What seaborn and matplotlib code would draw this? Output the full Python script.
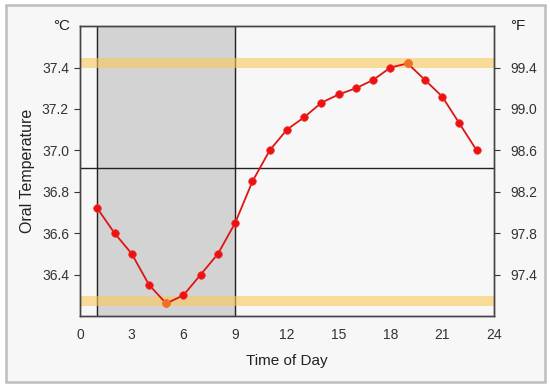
import matplotlib
matplotlib.use('Agg')
import matplotlib.pyplot as plt
import seaborn as sns
import pandas as pd
from matplotlib.patches import Rectangle

# Data
hours = [1, 2, 3, 4, 5, 6, 7, 8, 9, 10, 11, 12, 13, 14, 15, 16, 17, 18, 19, 20, 21, 22, 23]
temps_c = [36.72, 36.60, 36.50, 36.35, 36.26, 36.30, 36.40, 36.50, 36.65, 36.85, 37.00,
           37.10, 37.16, 37.23, 37.27, 37.30, 37.34, 37.40, 37.42, 37.34, 37.26, 37.13, 37.00]
night_start, night_end = 1, 9
mean_temp = 36.915
band_levels = [37.42, 36.27]
c_ticks = [36.4, 36.6, 36.8, 37.0, 37.2, 37.4]
f_ticks = [97.4, 97.8, 98.2, 98.6, 99.0, 99.4]
x_ticks = [0, 3, 6, 9, 12, 15, 18, 21, 24]

df = pd.DataFrame({'hour': hours, 'temp': temps_c})
extremes = df.loc[[df['temp'].idxmin(), df['temp'].idxmax()]]

sns.set_style('white')
plt.rcParams['font.family'] = ['Liberation Sans', 'DejaVu Sans']

fig = plt.figure(figsize=(5.5, 3.9), dpi=100, facecolor='white')
# light panel with grey frame
fig.patches.append(Rectangle((0.011, 0.021), 0.979, 0.966, transform=fig.transFigure,
                             facecolor='#f7f7f7', edgecolor='#bdbdbd', lw=1.8, zorder=-1))
ax = fig.add_axes([0.1455, 0.19, 0.7525, 0.743])
ax.set_facecolor('#f7f7f7')

# night shading and reference lines
ax.axvspan(night_start, night_end, color='#d3d3d3', zorder=0)
for xv in (night_start, night_end):
    ax.axvline(xv, color='#222222', lw=1, zorder=1)
ax.axhline(mean_temp, color='#222222', lw=1, zorder=1)
for lvl in band_levels:
    ax.axhspan(lvl - 0.024, lvl + 0.024, color='#f9c85a', alpha=0.6, lw=0, zorder=2)

sns.lineplot(data=df, x='hour', y='temp', color='#dd1515', lw=1.3, ax=ax, zorder=3)
sns.scatterplot(data=df, x='hour', y='temp', color='#ee1111', s=30, edgecolor='#ee3333',
                lw=0.5, ax=ax, zorder=4)
sns.scatterplot(data=extremes, x='hour', y='temp', color='#f07020', s=30, edgecolor='#f08040',
                lw=0.5, ax=ax, zorder=5)

ax.set_xlim(0, 24)
ax.set_ylim(36.2, 37.6)
ax.set_xticks(x_ticks)
ax.set_yticks(c_ticks)
ax.set_yticklabels([f'{v:.1f}' for v in c_ticks])
ax.set_xlabel('Time of Day', fontsize=11, color='#222222', labelpad=8)
ax.set_ylabel('Oral Temperature', fontsize=11.5, color='#222222', labelpad=5)
ax.tick_params(axis='y', direction='out', length=4, labelsize=10, colors='#333333', pad=4)
ax.tick_params(axis='x', direction='inout', length=6, labelsize=10, colors='#333333', pad=6)
for sp in ax.spines.values():
    sp.set_color('#444444')
    sp.set_linewidth(1)

ax2 = ax.twinx()
ax2.set_ylim(97.0, 99.8)
ax2.set_yticks(f_ticks)
ax2.set_yticklabels([f'{v:.1f}' for v in f_ticks])
ax2.tick_params(axis='y', direction='out', length=4, labelsize=10, colors='#333333', pad=8)
for sp in ax2.spines.values():
    sp.set_color('#444444')
    sp.set_linewidth(1)

ax.text(-0.045, 1.0, '°C', transform=ax.transAxes, ha='center', va='center',
        fontsize=11, color='#222222')
ax.text(1.058, 1.0, '°F', transform=ax.transAxes, ha='center', va='center',
        fontsize=11, color='#222222')

fig.savefig('out.png', dpi=100, facecolor=fig.get_facecolor())
